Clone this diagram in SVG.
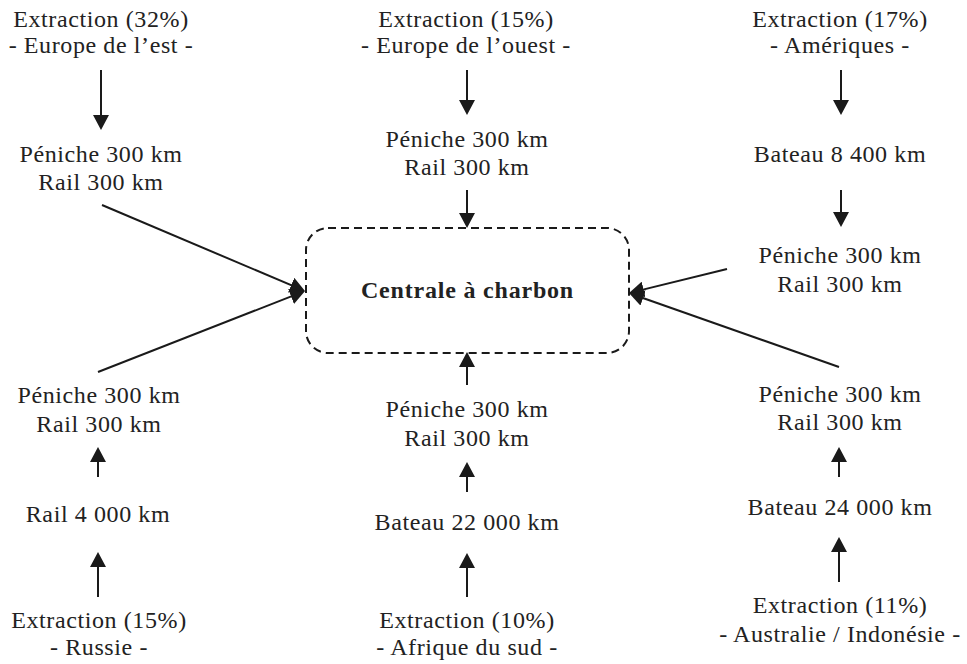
<svg xmlns="http://www.w3.org/2000/svg" width="967" height="664" viewBox="0 0 967 664">
<style>
text{font-family:"Liberation Serif","Times New Roman",serif;font-size:24px;letter-spacing:0.6px;fill:#222;text-anchor:middle}
.b{font-weight:bold;letter-spacing:0.8px}
.c line{stroke:#1a1a1a;stroke-width:2;marker-end:url(#ah)}
</style>
<defs>
<marker id="ah" viewBox="0 0 15 16" markerWidth="15" markerHeight="16" refX="7" refY="8" orient="auto" markerUnits="userSpaceOnUse">
<path d="M0,0 L15,8 L0,16 z" fill="#1a1a1a"/>
</marker>
</defs>
<rect width="967" height="664" fill="#fff"/>
<g id="centrale">
<rect x="306" y="228" width="323" height="125" rx="22" fill="none" stroke="#1a1a1a" stroke-width="2" stroke-dasharray="8 5"/>
<text class="b" x="467.5" y="298">Centrale à charbon</text>
</g>
<g id="ext-est"><text x="101" y="27">Extraction (32%)</text><text x="101" y="53">- Europe de l’est -</text></g>
<g id="tr-est"><text x="101" y="162">Péniche 300 km</text><text x="101" y="190">Rail 300 km</text></g>
<g id="ext-ouest"><text x="466" y="27">Extraction (15%)</text><text x="466" y="53">- Europe de l’ouest -</text></g>
<g id="tr-ouest"><text x="467" y="147">Péniche 300 km</text><text x="467" y="175">Rail 300 km</text></g>
<g id="ext-am"><text x="840" y="27">Extraction (17%)</text><text x="840" y="53">- Amériques -</text></g>
<g id="bat-am"><text x="840" y="162">Bateau 8 400 km</text></g>
<g id="tr-am"><text x="840" y="263">Péniche 300 km</text><text x="840" y="292">Rail 300 km</text></g>
<g id="tr-ru"><text x="99" y="403">Péniche 300 km</text><text x="99" y="432">Rail 300 km</text></g>
<g id="rail-ru"><text x="98" y="522">Rail 4 000 km</text></g>
<g id="ext-ru"><text x="99" y="628">Extraction (15%)</text><text x="99" y="655">- Russie -</text></g>
<g id="tr-af"><text x="467" y="417">Péniche 300 km</text><text x="467" y="446">Rail 300 km</text></g>
<g id="bat-af"><text x="467" y="530">Bateau 22 000 km</text></g>
<g id="ext-af"><text x="467" y="628">Extraction (10%)</text><text x="467" y="655">- Afrique du sud -</text></g>
<g id="tr-au"><text x="840" y="402">Péniche 300 km</text><text x="840" y="430">Rail 300 km</text></g>
<g id="bat-au"><text x="840" y="515">Bateau 24 000 km</text></g>
<g id="ext-au"><text x="840" y="613">Extraction (11%)</text><text x="840" y="642">- Australie / Indonésie -</text></g>
<g id="connectors" class="c">
<line x1="101" y1="70" x2="101" y2="122"/>
<line x1="102" y1="205" x2="297.6" y2="287.9"/>
<line x1="98" y1="372" x2="297.6" y2="293.9"/>
<line x1="467" y1="70" x2="467" y2="107"/>
<line x1="467" y1="190" x2="467" y2="220"/>
<line x1="841" y1="70" x2="841" y2="107"/>
<line x1="841" y1="190" x2="841" y2="219"/>
<line x1="727" y1="269" x2="636.8" y2="291.1"/>
<line x1="839" y1="367" x2="636.5" y2="295.7"/>
<line x1="98" y1="477" x2="98" y2="455"/>
<line x1="98" y1="597" x2="98" y2="560"/>
<line x1="467" y1="385" x2="467" y2="360"/>
<line x1="467" y1="492" x2="467" y2="470"/>
<line x1="467" y1="597" x2="467" y2="561"/>
<line x1="839" y1="477" x2="839" y2="455"/>
<line x1="839" y1="582" x2="839" y2="545"/>
</g>
</svg>
